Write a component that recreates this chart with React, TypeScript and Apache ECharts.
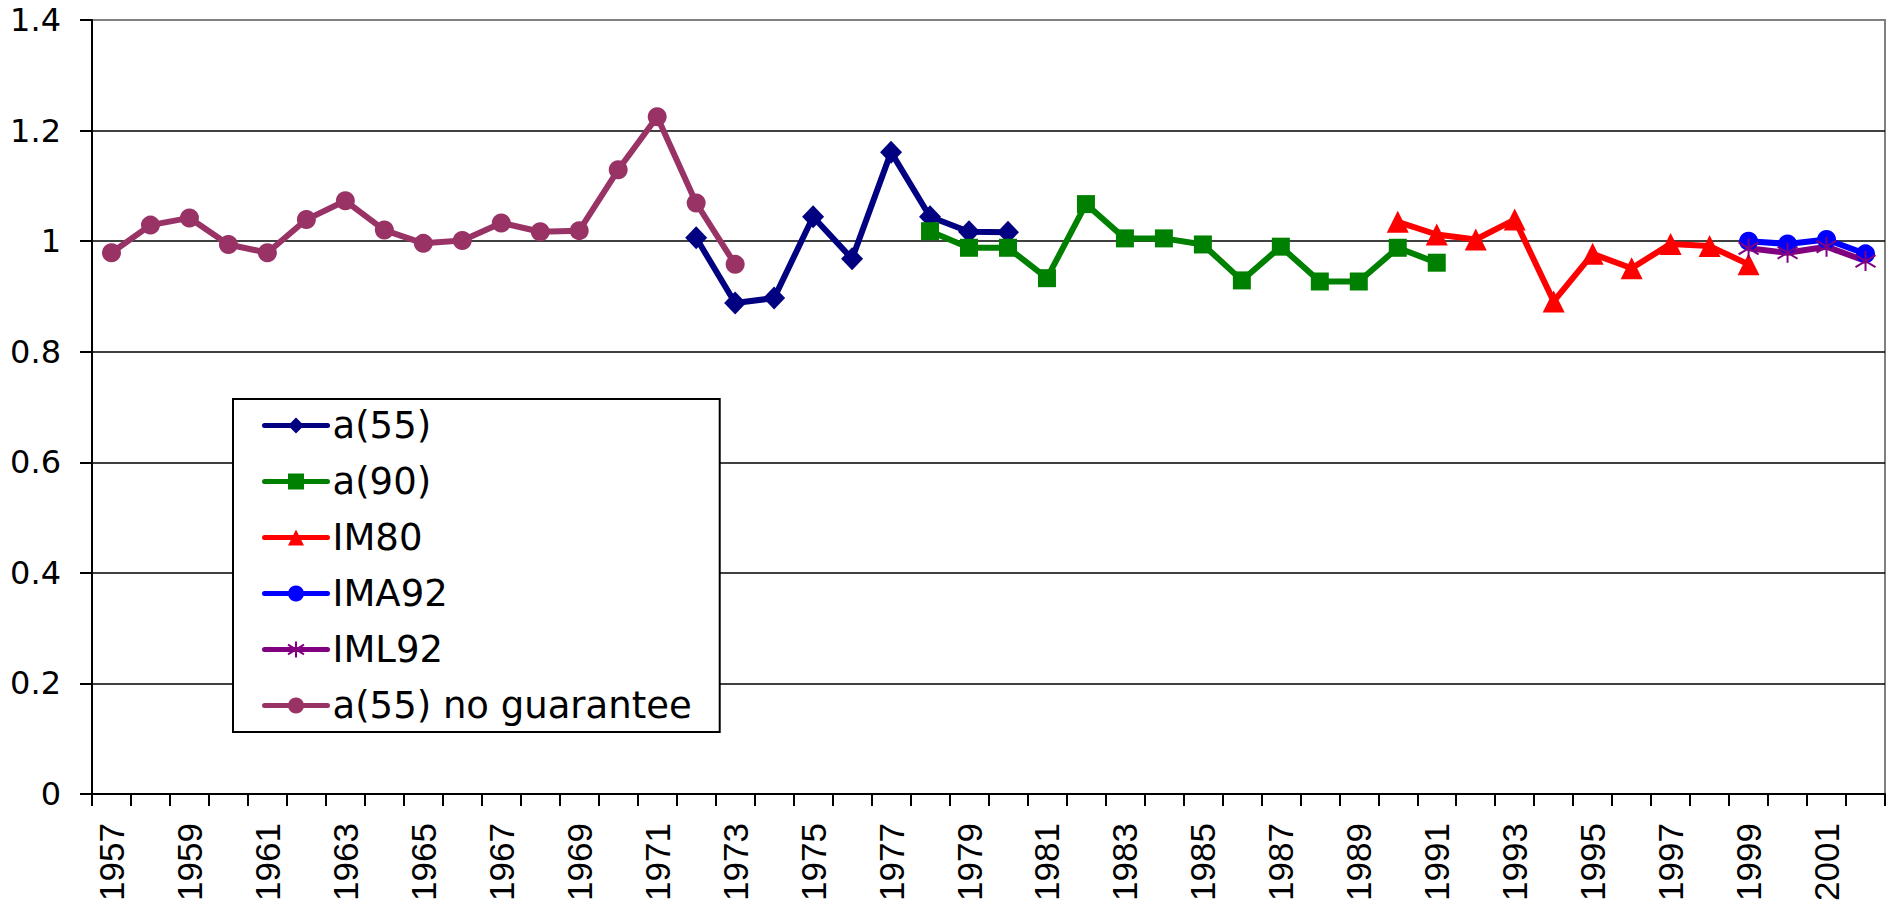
import React, { useEffect, useRef } from "react";
import * as echarts from "echarts";

const years: string[] = [
  "1957","1958","1959","1960","1961","1962","1963","1964","1965","1966",
  "1967","1968","1969","1970","1971","1972","1973","1974","1975","1976",
  "1977","1978","1979","1980","1981","1982","1983","1984","1985","1986",
  "1987","1988","1989","1990","1991","1992","1993","1994","1995","1996",
  "1997","1998","1999","2000","2001","2002",
];

const N = null;
// a(55): 1972-1980
const a55: (number | null)[] = [
  N,N,N,N,N,N,N,N,N,N,N,N,N,N,N,
  1.006,0.888,0.897,1.044,0.968,1.161,1.044,1.017,1.016,
  N,N,N,N,N,N,N,N,N,N,N,N,N,N,N,N,N,N,N,N,N,N,
];
// a(90): 1978-1991
const a90: (number | null)[] = [
  N,N,N,N,N,N,N,N,N,N,N,N,N,N,N,N,N,N,N,N,N,
  1.018,0.988,0.988,0.933,1.067,1.005,1.005,0.994,0.929,0.990,0.927,0.927,0.988,0.961,
  N,N,N,N,N,N,N,N,N,N,N,
];
// IM80: 1990-1999
const im80: (number | null)[] = [
  N,N,N,N,N,N,N,N,N,N,N,N,N,N,N,N,N,N,N,N,N,N,N,N,N,N,N,N,N,N,N,N,N,
  1.035,1.012,1.003,1.039,0.891,0.977,0.951,0.995,0.991,0.958,
  N,N,N,
];
// IMA92: 1999-2002
const ima92: (number | null)[] = [
  N,N,N,N,N,N,N,N,N,N,N,N,N,N,N,N,N,N,N,N,N,N,N,N,N,N,N,N,N,N,N,N,N,N,N,N,N,N,N,N,N,N,
  1.000,0.995,1.003,0.977,
];
// IML92: 1999-2002
const iml92: (number | null)[] = [
  N,N,N,N,N,N,N,N,N,N,N,N,N,N,N,N,N,N,N,N,N,N,N,N,N,N,N,N,N,N,N,N,N,N,N,N,N,N,N,N,N,N,
  0.987,0.979,0.990,0.964,
];
// a(55) no guarantee: 1957-1973
const a55ng: (number | null)[] = [
  0.979,1.029,1.042,0.994,0.979,1.039,1.073,1.020,0.996,1.001,
  1.033,1.017,1.019,1.129,1.225,1.069,0.958,
  N,N,N,N,N,N,N,N,N,N,N,N,N,N,N,N,N,N,N,N,N,N,N,N,N,N,N,N,N,
];

const seriesNames = ["a(55)", "a(90)", "IM80", "IMA92", "IML92", "a(55) no guarantee"];

const FONT_ARIAL = "'Liberation Sans', Arial, Helvetica, sans-serif";
const FONT_WIDE = "'DejaVu Sans', 'Liberation Sans', Arial, sans-serif";
const ASTERISK = "path://M10,0L10,20M1,4L19,16M1,16L19,4";

export default function App() {
  const ref = useRef<HTMLDivElement>(null);

  useEffect(() => {
    if (!ref.current) return;
    const chart = echarts.init(ref.current, undefined, { renderer: "svg" });

    const mk = (
      name: string,
      data: (number | null)[],
      color: string,
      symbol: string,
      symbolSize: number | number[],
      extraItem: any = {}
    ) => ({
      name,
      type: "line",
      data,
      connectNulls: false,
      symbol,
      symbolSize,
      showAllSymbol: true,
      lineStyle: { color, width: 6 },
      itemStyle: { color, ...extraItem },
      emphasis: { disabled: true },
    });

    chart.setOption({
      animation: false,
      backgroundColor: "#ffffff",
      textStyle: { fontFamily: FONT_ARIAL },
      grid: {
        left: 92,
        right: 9,
        top: 20,
        bottom: 114,
        containLabel: false,
        outerBoundsMode: "none",
        show: true,
        borderColor: "#808080",
        borderWidth: 2,
        backgroundColor: "transparent",
      },
      legend: {
        orient: "vertical",
        left: 233,
        top: 399,
        padding: [8, 28, 8, 29],
        itemWidth: 63,
        itemHeight: 20,
        itemGap: 19,
        backgroundColor: "#ffffff",
        borderColor: "#000000",
        borderWidth: 2,
        borderRadius: 0,
        data: seriesNames,
        lineStyle: { width: 5, cap: "round" },
        textStyle: { fontSize: 37, color: "#000000", fontFamily: FONT_WIDE },
        selectedMode: false,
      },
      xAxis: {
        type: "category",
        data: years,
        boundaryGap: true,
        axisLine: { show: true, lineStyle: { color: "#000000", width: 2 } },
        axisTick: {
          show: true,
          interval: 0,
          length: 12,
          lineStyle: { color: "#000000", width: 2 },
        },
        axisLabel: {
          interval: 1,
          rotate: 90,
          fontSize: 35,
          color: "#000000",
          margin: 29,
          fontFamily: FONT_ARIAL,
        },
        splitLine: { show: false },
      },
      yAxis: {
        type: "value",
        min: 0,
        max: 1.4,
        interval: 0.2,
        axisLine: { show: true, lineStyle: { color: "#000000", width: 2 } },
        axisTick: { show: true, length: 12, lineStyle: { color: "#000000", width: 2 } },
        axisLabel: {
          fontSize: 32,
          color: "#000000",
          margin: 31,
          fontFamily: FONT_WIDE,
        },
        splitLine: {
          show: true,
          showMaxLine: false,
          lineStyle: { color: "#000000", width: 1.5 },
        },
      },
      series: [
        mk("a(55)", a55, "#000080", "diamond", [22, 23]),
        mk("a(90)", a90, "#008000", "rect", 18),
        mk("IM80", im80, "#FF0000", "triangle", 22),
        mk("IMA92", ima92, "#0000FF", "circle", 19),
        mk("IML92", iml92, "#800080", ASTERISK, 20, {
          borderColor: "#800080",
          borderWidth: 2,
        }),
        mk("a(55) no guarantee", a55ng, "#993366", "circle", 19),
      ],
    });

    return () => chart.dispose();
  }, []);

  return (
    <div
      ref={ref}
      style={{ position: "fixed", left: 0, top: 0, width: 1894, height: 908, background: "#fff" }}
    />
  );
}
